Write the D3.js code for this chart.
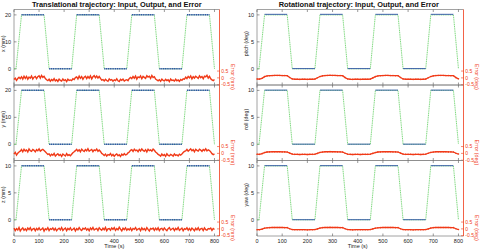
<!DOCTYPE html>
<html><head><meta charset="utf-8">
<script src="https://cdn.jsdelivr.net/npm/d3@7"></script>
<style>body{margin:0;background:#fff}svg{display:block}text{font-family:"Liberation Sans",Arial,sans-serif}</style>
</head><body><svg id="c" width="481" height="249"></svg>
<script>
// ---- data ----
const inputTime = [0, 8, 30, 120, 140, 230, 250, 340, 360, 450, 470, 560, 580, 670, 690, 780, 800];
const inputX = [0, 0, 20, 20, 0, 0, 20, 20, 0, 0, 20, 20, 0, 0, 20, 20, 0];
const inputY = [0, 0, 20, 20, 0, 0, 20, 20, 0, 0, 20, 20, 0, 0, 20, 20, 0];
const inputZ = [0, 0, 10, 10, 0, 0, 10, 10, 0, 0, 10, 10, 0, 0, 10, 10, 0];
const inputPitch = [0, 0, 10, 10, 0, 0, 10, 10, 0, 0, 10, 10, 0, 0, 10, 10, 0];
const inputRoll = [0, 0, 10, 10, 0, 0, 10, 10, 0, 0, 10, 10, 0, 0, 10, 10, 0];
const inputYaw = [0, 0, 10, 10, 0, 0, 10, 10, 0, 0, 10, 10, 0, 0, 10, 10, 0];

const holdStart = [30, 140, 250, 360, 470, 580, 690];
const holdEnd = [120, 230, 340, 450, 560, 670, 780];
const outputX = [20.05, 0.02, 20.05, 0.02, 20.05, 0.02, 20.05];
const outputY = [20.05, 0.02, 20.05, 0.02, 20.05, 0.02, 20.05];
const outputZ = [10.03, 0.01, 10.03, 0.01, 10.03, 0.01, 10.03];
const outputPitch = [10.1, 0.05, 10.1, 0.05, 10.1, 0.05, 10.1];
const outputRoll = [10.05, 0.03, 10.05, 0.03, 10.05, 0.03, 10.05];
const outputYaw = [10.05, 0.03, 10.05, 0.03, 10.05, 0.03, 10.05];

const errTimeTrans = d3.range(0, 801, 5);
const errX = [-0.12, -0.02, -0.18, -0.05, 0.04, -0.06,
 0.08, -0.09, 0.12, -0.04, 0.1, -0.1, 0.06, -0.02, 0.14, -0.08, 0.05, 0.11, -0.06, 0.09, 0.16, -0.02, 0.18, 0.04, 0.12,
 -0.05, -0.14, -0.2,
 -0.1, -0.24, -0.12, -0.2, -0.06, -0.22, -0.14, -0.26, -0.09, -0.18, -0.23, -0.08, -0.2, -0.13, -0.27, -0.1, -0.19, -0.15,
 -0.2, -0.06, -0.12, 0.02,
 0.07, -0.08, 0.13, -0.03, 0.09, -0.1, 0.05, 0.12, -0.05, 0.1, -0.02, 0.15, -0.07, 0.08, 0.17, 0.01, 0.14, -0.01, 0.1,
 -0.04, -0.16, -0.12,
 -0.22, -0.1, -0.19, -0.25, -0.08, -0.17, -0.12, -0.24, -0.14, -0.2, -0.07, -0.21, -0.26, -0.11, -0.18, -0.09, -0.23, -0.16,
 -0.13, -0.2, -0.04, 0.03,
 -0.06, 0.1, -0.02, 0.13, -0.09, 0.07, 0.02, 0.14, -0.06, 0.11, 0.04, -0.03, 0.16, 0.06, 0.12, -0.04, 0.18, 0.03, 0.09,
 -0.08, -0.15, -0.21,
 -0.13, -0.25, -0.09, -0.18, -0.22, -0.11, -0.2, -0.14, -0.27, -0.08, -0.19, -0.16, -0.23, -0.1, -0.21, -0.15, -0.25, -0.12,
 -0.18, -0.07, -0.1, 0.05,
 -0.05, 0.11, 0.0, 0.14, -0.07, 0.09, -0.01, 0.12, 0.05, -0.04, 0.15, 0.02, 0.1, -0.06, 0.13, 0.08, 0.19, -0.01, 0.11,
 -0.06, -0.15, -0.2, -0.12];
const errY = [-0.05, 0.08, -0.12, 0.02, 0.1, 0.16,
 0.28, 0.12, 0.3, 0.18, 0.25, 0.1, 0.32, 0.2, 0.15, 0.29, 0.22, 0.11, 0.27, 0.19, 0.33, 0.16, 0.24, 0.3, 0.21,
 0.12, 0.02, -0.08,
 -0.04, -0.18, -0.06, -0.14, 0.0, -0.2, -0.1, -0.03, -0.16, -0.08, -0.22, -0.05, -0.12, -0.19, -0.02, -0.15, -0.09, -0.17,
 -0.06, 0.05, 0.12, 0.2,
 0.3, 0.17, 0.26, 0.12, 0.31, 0.21, 0.14, 0.28, 0.19, 0.34, 0.16, 0.23, 0.29, 0.13, 0.26, 0.2, 0.32, 0.15, 0.25,
 0.14, 0.0, -0.06,
 -0.15, -0.05, -0.2, -0.09, -0.13, -0.01, -0.18, -0.07, -0.21, -0.11, -0.04, -0.17, -0.1, -0.23, -0.06, -0.14, -0.02, -0.12,
 -0.08, 0.04, 0.1, 0.22,
 0.27, 0.14, 0.31, 0.2, 0.24, 0.12, 0.29, 0.18, 0.33, 0.22, 0.15, 0.27, 0.11, 0.3, 0.2, 0.25, 0.17, 0.32, 0.23,
 0.1, 0.03, -0.07,
 -0.12, -0.2, -0.05, -0.16, -0.09, -0.22, -0.03, -0.14, -0.18, -0.07, -0.12, -0.2, -0.04, -0.15, -0.1, -0.19, -0.06, -0.13,
 -0.05, 0.06, 0.14, 0.18,
 0.29, 0.16, 0.25, 0.33, 0.19, 0.27, 0.12, 0.3, 0.22, 0.17, 0.31, 0.24, 0.14, 0.28, 0.2, 0.34, 0.18, 0.26, 0.21,
 0.11, -0.02, -0.09, -0.04];
const errZ = [0.05, -0.12, 0.02, -0.08, 0.1, -0.15, -0.02, 0.07, -0.1, 0.0, -0.13, 0.06, -0.05, 0.09, -0.11, -0.01, 0.04, -0.14, 0.03, -0.07,
 0.08, -0.09, -0.03, 0.06, -0.16, 0.01, -0.06, 0.09, -0.12, 0.02, -0.04, 0.07, -0.1, 0.04, -0.14, -0.02, 0.05, -0.08, 0.1, -0.11,
 -0.01, 0.06, -0.13, 0.03, -0.06, 0.08, -0.1, -0.03, 0.05, -0.15, 0.02, -0.07, 0.09, -0.04, -0.12, 0.04, -0.02, 0.07, -0.09, 0.01,
 -0.14, 0.06, -0.05, 0.1, -0.08, -0.01, 0.04, -0.12, 0.08, -0.03, -0.1, 0.05, -0.06, 0.11, -0.13, 0.0, 0.03, -0.09, 0.07, -0.04,
 0.09, -0.11, 0.02, -0.07, 0.12, -0.02, -0.14, 0.05, -0.05, 0.08, -0.1, 0.01, -0.08, 0.06, -0.12, 0.03, -0.03, 0.1, -0.09, -0.01,
 0.04, -0.13, 0.07, -0.06, 0.02, -0.11, 0.09, -0.04, -0.15, 0.03, -0.02, 0.06, -0.1, 0.05, -0.07, 0.08, -0.12, 0.0, 0.04, -0.09,
 0.07, -0.05, -0.13, 0.02, 0.09, -0.08, -0.01, 0.05, -0.12, 0.03, -0.06, 0.1, -0.1, -0.02, 0.06, -0.14, 0.01, -0.04, 0.08, -0.09,
 0.03, -0.11, 0.06, -0.03, -0.13, 0.05, -0.07, 0.09, -0.1, 0.0, 0.04, -0.12, 0.07, -0.05, -0.09, 0.02, -0.01, 0.06, -0.11, 0.03,
 -0.04];

const errTimeRot = d3.range(0, 801, 10);
const errPitch = [-0.08, -0.09, -0.03,
 0.09, 0.14, 0.16, 0.17, 0.18, 0.18, 0.18, 0.17, 0.17, 0.16,
 0.03,
 -0.08, -0.1, -0.1, -0.11, -0.1, -0.1, -0.11, -0.1, -0.1, -0.09,
 0.01,
 0.1, 0.15, 0.17, 0.18, 0.19, 0.18, 0.18, 0.17, 0.17, 0.16,
 0.02,
 -0.08, -0.1, -0.11, -0.1, -0.1, -0.11, -0.1, -0.1, -0.1, -0.09,
 0.0,
 0.09, 0.14, 0.16, 0.17, 0.18, 0.18, 0.17, 0.17, 0.16, 0.16,
 0.03,
 -0.08, -0.1, -0.1, -0.1, -0.11, -0.1, -0.1, -0.11, -0.1, -0.09,
 0.01,
 0.1, 0.15, 0.17, 0.18, 0.18, 0.18, 0.17, 0.17, 0.16, 0.16,
 0.02, -0.07];
const errRoll = [-0.06, -0.07, -0.02,
 0.06, 0.1, 0.11, 0.12, 0.12, 0.12, 0.12, 0.11, 0.11, 0.1,
 0.02,
 -0.05, -0.07, -0.07, -0.08, -0.07, -0.07, -0.08, -0.07, -0.07, -0.06,
 0.0,
 0.07, 0.1, 0.12, 0.12, 0.13, 0.12, 0.12, 0.11, 0.11, 0.1,
 0.01,
 -0.06, -0.07, -0.08, -0.07, -0.07, -0.08, -0.07, -0.07, -0.07, -0.06,
 0.0,
 0.06, 0.1, 0.11, 0.12, 0.12, 0.12, 0.12, 0.11, 0.11, 0.1,
 0.02,
 -0.05, -0.07, -0.07, -0.07, -0.08, -0.07, -0.07, -0.08, -0.07, -0.06,
 0.01,
 0.07, 0.1, 0.12, 0.12, 0.12, 0.12, 0.12, 0.11, 0.11, 0.1,
 0.01, -0.05];
const errYaw = [-0.06, -0.06, -0.02,
 0.05, 0.08, 0.09, 0.1, 0.1, 0.1, 0.1, 0.1, 0.09, 0.09,
 0.01,
 -0.05, -0.06, -0.06, -0.06, -0.06, -0.06, -0.07, -0.06, -0.06, -0.05,
 0.0,
 0.06, 0.09, 0.1, 0.1, 0.11, 0.1, 0.1, 0.1, 0.09, 0.09,
 0.01,
 -0.05, -0.06, -0.07, -0.06, -0.06, -0.06, -0.06, -0.06, -0.06, -0.05,
 0.0,
 0.05, 0.08, 0.09, 0.1, 0.1, 0.1, 0.1, 0.1, 0.09, 0.09,
 0.01,
 -0.05, -0.06, -0.06, -0.06, -0.07, -0.06, -0.06, -0.06, -0.06, -0.05,
 0.0,
 0.06, 0.09, 0.1, 0.1, 0.1, 0.1, 0.1, 0.1, 0.09, 0.09,
 0.01, -0.05];

const timeTicks = [0, 100, 200, 300, 400, 500, 600, 700, 800];
const errTicks = [-0.5, 0, 0.5];
const titles = ["Translational trajectory: Input, Output, and Error", "Rotational trajectory: Input, Output, and Error"];

// ---- layout ----
const svg = d3.select("#c");
const cols = [{x0: 14, x1: 219.5}, {x0: 257, x1: 463.5}];
const rowTops = [9.5, 85, 160.5];
const rowH = 75.5;
const cGreen = "#6fd46f", cBlue = "#2a4ea6", cRed = "#f03a18", cAxis = "#8a8a8a";

const panels = [
  {col: 0, row: 0, label: "x (mm)", elabel: "Error (mm)", dom: [-6, 22], ticks: [0, 10, 20], inp: inputX, out: outputX, err: errX, et: errTimeTrans, noisy: true},
  {col: 0, row: 1, label: "y (mm)", elabel: "Error (mm)", dom: [-6, 22], ticks: [0, 10, 20], inp: inputY, out: outputY, err: errY, et: errTimeTrans, noisy: true},
  {col: 0, row: 2, label: "z (mm)", elabel: "Error (mm)", dom: [-3, 11], ticks: [0, 5, 10], inp: inputZ, out: outputZ, err: errZ, et: errTimeTrans, noisy: true},
  {col: 1, row: 0, label: "pitch (deg)", elabel: "Error (deg)", dom: [-3, 11], ticks: [0, 5, 10], inp: inputPitch, out: outputPitch, err: errPitch, et: errTimeRot, noisy: false},
  {col: 1, row: 1, label: "roll (deg)", elabel: "Error (deg)", dom: [-3, 11], ticks: [0, 5, 10], inp: inputRoll, out: outputRoll, err: errRoll, et: errTimeRot, noisy: false},
  {col: 1, row: 2, label: "yaw (deg)", elabel: "Error (deg)", dom: [-3, 11], ticks: [0, 5, 10], inp: inputYaw, out: outputYaw, err: errYaw, et: errTimeRot, noisy: false}
];

panels.forEach(p => {
  const c = cols[p.col];
  const top = rowTops[p.row], bot = top + rowH;
  const x = d3.scaleLinear().domain([0, 820]).range([c.x0, c.x1]);
  const y = d3.scaleLinear().domain(p.dom).range([bot, top]);
  const ye = d3.scaleLinear().domain([-0.52, 5.0]).range([bot, top]);
  const g = svg.append("g");

  // frame
  g.append("line").attr("x1", c.x0).attr("x2", c.x1).attr("y1", top).attr("y2", top).attr("stroke", cAxis).attr("stroke-width", 0.8);
  g.append("line").attr("x1", c.x0).attr("x2", c.x1).attr("y1", bot).attr("y2", bot).attr("stroke", cAxis).attr("stroke-width", 0.8);
  g.append("line").attr("x1", c.x0).attr("x2", c.x0).attr("y1", top).attr("y2", bot).attr("stroke", cAxis).attr("stroke-width", 0.8);

  // x ticks (inward, top & bottom)
  timeTicks.forEach(t => {
    g.append("line").attr("x1", x(t)).attr("x2", x(t)).attr("y1", bot).attr("y2", bot - 2.5).attr("stroke", "#555").attr("stroke-width", 0.6);
    g.append("line").attr("x1", x(t)).attr("x2", x(t)).attr("y1", top).attr("y2", top + 2.5).attr("stroke", "#555").attr("stroke-width", 0.6);
  });
  // y ticks left
  p.ticks.forEach(v => {
    g.append("line").attr("x1", c.x0).attr("x2", c.x0 + 2.5).attr("y1", y(v)).attr("y2", y(v)).attr("stroke", "#555").attr("stroke-width", 0.6);
    g.append("text").attr("x", c.x0 - 3).attr("y", y(v)).attr("dy", "0.35em").attr("text-anchor", "end")
      .attr("font-size", 5.5).attr("fill", "#222").text(v);
  });
  g.append("text").attr("transform", `translate(${c.x0 - 9.5},${(top + bot) / 2 - 3.5}) rotate(-90)`)
    .attr("text-anchor", "middle").attr("font-size", 5.3).attr("fill", "#222").text(p.label);

  // input (green)
  const line = d3.line().x((d, i) => x(inputTime[i])).y(d => y(d));
  g.append("path").attr("d", line(p.inp)).attr("fill", "none").attr("stroke", cGreen).attr("stroke-width", 0.9)
    .attr("stroke-dasharray", "1.2,0.6");

  // output (blue) on holds
  p.out.forEach((v, i) => {
    g.append("line").attr("x1", x(holdStart[i])).attr("x2", x(holdEnd[i])).attr("y1", y(v)).attr("y2", y(v))
      .attr("stroke", cBlue).attr("stroke-width", p.noisy ? 1.6 : 1.1)
      .attr("stroke-dasharray", p.noisy ? "1.3,0.5" : null).attr("opacity", p.noisy ? 0.95 : 0.8);
  });

  // error (red)
  const eline = d3.line().x((d, i) => x(p.et[i])).y(d => ye(d));
  g.append("path").attr("d", eline(p.err)).attr("fill", "none").attr("stroke", cRed)
    .attr("stroke-width", p.noisy ? 1.4 : 1.3).attr("stroke-linejoin", "miter");
  if (!p.noisy) {
    g.selectAll(null).data(p.err).enter().append("circle")
      .attr("cx", (d, i) => x(p.et[i])).attr("cy", d => ye(d)).attr("r", 0.8).attr("fill", cRed);
  }

  // right error axis (red)
  g.append("line").attr("x1", c.x1).attr("x2", c.x1).attr("y1", top).attr("y2", bot).attr("stroke", cRed).attr("stroke-width", 0.8);
  errTicks.forEach(v => {
    g.append("line").attr("x1", c.x1).attr("x2", c.x1 - 2.5).attr("y1", ye(v)).attr("y2", ye(v)).attr("stroke", cRed).attr("stroke-width", 0.6);
    g.append("text").attr("x", c.x1 + 1.8).attr("y", ye(v)).attr("dy", "0.35em").attr("font-size", 5).attr("fill", cRed).text(v);
  });
  g.append("text").attr("transform", `translate(${c.x1 + 11.5},${ye(0) - 1}) rotate(90)`)
    .attr("text-anchor", "middle").attr("font-size", 5.3).attr("fill", cRed).text(p.elabel);

  // bottom axis labels
  if (p.row === 2) {
    timeTicks.forEach(t => {
      g.append("text").attr("x", x(t)).attr("y", bot + 6.5).attr("text-anchor", "middle").attr("font-size", 5.5).attr("fill", "#222").text(t);
    });
    g.append("text").attr("x", (x(0) + x(800)) / 2).attr("y", bot + 12).attr("text-anchor", "middle").attr("font-size", 5.5).attr("fill", "#222").text("Time (s)");
  }
});

titles.forEach((t, i) => {
  const c = cols[i];
  svg.append("text").attr("x", (c.x0 + c.x1) / 2 - (i ? 1.5 : 0)).attr("y", 7.2).attr("text-anchor", "middle")
    .attr("font-size", 7.4).attr("font-weight", "bold").attr("fill", "#111").text(t);
});
</script></body></html>
